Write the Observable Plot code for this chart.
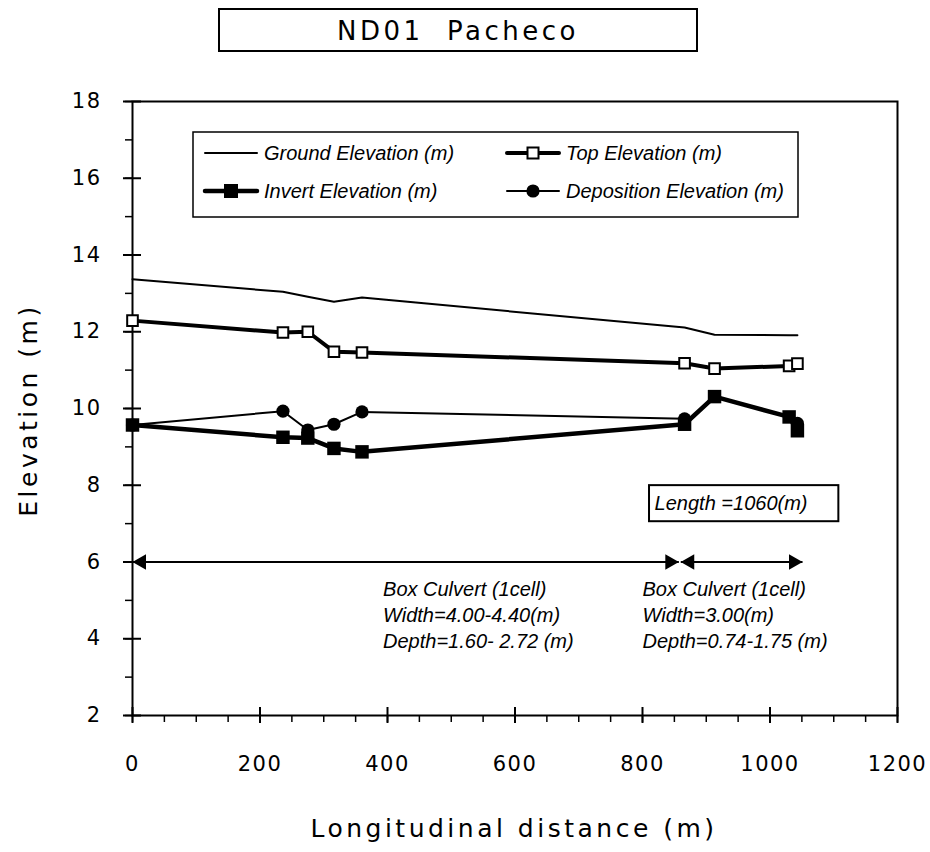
<!DOCTYPE html>
<html><head><meta charset="utf-8">
<script src="https://cdn.jsdelivr.net/npm/d3@7"></script>
<script src="https://cdn.jsdelivr.net/npm/@observablehq/plot@0.6"></script>
<style>
body{margin:0;background:#fff}
</style>
</head><body><div id="chart"></div>
<script>
// ---- data ----
const stations   = [0, 236, 275, 316, 360, 866, 913, 1030, 1043];
const groundElev = [13.37, 13.04, 12.91, 12.78, 12.89, 12.11, 11.92, 11.91, 11.91];
const topElev    = [12.29, 11.98, 12.00, 11.48, 11.46, 11.18, 11.04, 11.11, 11.17];
const invertElev = [9.57, 9.25, 9.23, 8.96, 8.87, 9.59, 10.31, 9.78, 9.42];
const depoElev   = [9.57, 9.93, 9.44, 9.59, 9.91, 9.73, null, null, 9.61];

const seriesNames = ["Ground Elevation (m)", "Top Elevation (m)", "Invert Elevation (m)", "Deposition Elevation (m)"];
const xMajor = [0, 200, 400, 600, 800, 1000, 1200];
const xMinor = d3.range(0, 1201, 50);
const yMajor = [2, 4, 6, 8, 10, 12, 14, 16, 18];
const yMinor = d3.range(2, 19, 1);

const spanStarts = [0, 860];
const spanEnds = [857, 1051];
const spanLevel = 6;
const noteX = [393, 800];
const noteLevel = 4.65;
const notes = [
  "Box Culvert (1cell)\nWidth=4.00-4.40(m)\nDepth=1.60- 2.72 (m)",
  "Box Culvert (1cell)\nWidth=3.00(m)\nDepth=0.74-1.75 (m)"
];
const lengthBox = {x1: 811, x2: 1108, y1: 7.05, y2: 7.99};
const lengthText = "Length =1060(m)";
const lengthTextPos = {x: 819, y: 7.52};

const titleText = "ND01  Pacheco";
const xTitle = "Longitudinal distance (m)";
const yTitle = "Elevation (m)";

// ---- build tables ----
const rows = stations.map((s, i) => ({x: s, ground: groundElev[i], top: topElev[i], inv: invertElev[i], dep: depoElev[i]}));
const spans = spanStarts.map((s, i) => ({x1: s, x2: spanEnds[i], y: spanLevel}));
const noteRows = notes.map((t, i) => ({x: noteX[i], y: noteLevel, t}));

const W = 930, H = 852, ML = 132, MR = 33, MT = 101, MB = 137;
const PW = W - ML - MR, PH = H - MT - MB;
const italic = {fontFamily: "'Liberation Sans', Arial, sans-serif", fontStyle: "italic", fontSize: 20, fill: "black"};

const plot = Plot.plot({
  width: W, height: H,
  marginLeft: ML, marginRight: MR, marginTop: MT, marginBottom: MB,
  style: {fontFamily: "'DejaVu Sans', sans-serif", fontSize: "21px", color: "black", background: "white"},
  x: {domain: [0, 1200]},
  y: {domain: [2, 18]},
  marks: [
    // ticks
    Plot.tickX(xMinor, {x: d => d, insetTop: PH, insetBottom: -7, strokeWidth: 1.5}),
    Plot.tickX(xMajor, {x: d => d, insetTop: PH - 8, insetBottom: -8, strokeWidth: 2}),
    Plot.tickY(yMinor, {y: d => d, insetRight: PW, insetLeft: -7, strokeWidth: 1.5}),
    Plot.tickY(yMajor, {y: d => d, insetRight: PW - 9, insetLeft: -9, strokeWidth: 2}),
    Plot.axisX({ticks: xMajor, tickSize: 0, tickPadding: 41, tickFormat: d => String(d), label: null}),
    Plot.axisY({ticks: yMajor, tickSize: 0, tickPadding: 31, tickFormat: d => String(d), label: null}),
    Plot.frame({stroke: "black", strokeWidth: 2}),
    // annotations
    Plot.rect([lengthBox], {x1: "x1", x2: "x2", y1: "y1", y2: "y2", fill: "white", stroke: "black", strokeWidth: 2}),
    Plot.text([lengthTextPos], {x: "x", y: "y", text: () => lengthText, textAnchor: "start", ...italic}),
    Plot.link(spans, {x1: "x1", x2: "x2", y1: "y", y2: "y", stroke: "black", strokeWidth: 2}),
    Plot.dot(spans, {x: "x2", y: "y", symbol: "triangle", r: 5.8, rotate: 90, dx: -9, fill: "black", stroke: "none"}),
    Plot.dot(spans, {x: "x1", y: "y", symbol: "triangle", r: 5.8, rotate: -90, dx: 9, fill: "black", stroke: "none"}),
    Plot.text(noteRows, {x: "x", y: "y", text: "t", textAnchor: "start", lineAnchor: "middle", lineHeight: 1.28, ...italic}),
    // series
    Plot.line(rows, {x: "x", y: "ground", stroke: "black", strokeWidth: 2}),
    Plot.line(rows, {x: "x", y: "dep", stroke: "black", strokeWidth: 2}),
    Plot.dot(rows, {x: "x", y: "dep", r: 6.6, fill: "black", stroke: "none"}),
    Plot.line(rows, {x: "x", y: "inv", stroke: "black", strokeWidth: 4.5}),
    Plot.dot(rows, {x: "x", y: "inv", symbol: "square", r: 7.6, fill: "black", stroke: "none"}),
    Plot.line(rows, {x: "x", y: "top", stroke: "black", strokeWidth: 4}),
    Plot.dot(rows, {x: "x", y: "top", symbol: "square", r: 6.0, fill: "white", stroke: "black", strokeWidth: 2})
  ]
});

const svg = d3.select(plot);
svg.selectAll('g[aria-label="x-axis tick label"], g[aria-label="y-axis tick label"]')
  .attr("font-size", 21).style("font-size", "21px");
svg.selectAll('g[aria-label="x-axis tick label"] text, g[aria-label="y-axis tick label"] text')
  .style("letter-spacing", "1.5px").style("font-size", "21px");

// title box
svg.append("rect").attr("x", 219).attr("y", 9).attr("width", 478).attr("height", 42)
  .attr("fill", "white").attr("stroke", "black").attr("stroke-width", 2);
svg.append("text").attr("x", 458).attr("y", 31).attr("text-anchor", "middle").attr("dominant-baseline", "central")
  .style("font-family", "'DejaVu Sans', sans-serif").style("font-size", "26px").style("letter-spacing", "3.5px")
  .style("white-space", "pre").attr("xml:space", "preserve").text(titleText);

// axis titles
svg.append("text").attr("x", 514).attr("y", 837).attr("text-anchor", "middle")
  .style("font-family", "'DejaVu Sans', sans-serif").style("font-size", "25px").style("letter-spacing", "3.5px")
  .text(xTitle);
svg.append("text").attr("transform", "translate(37,410) rotate(-90)").attr("text-anchor", "middle")
  .style("font-family", "'DejaVu Sans', sans-serif").style("font-size", "25px").style("letter-spacing", "3.5px")
  .text(yTitle);

// legend
const lg = svg.append("g");
lg.append("rect").attr("x", 193).attr("y", 132).attr("width", 605).attr("height", 85)
  .attr("fill", "white").attr("stroke", "black").attr("stroke-width", 1.5);
const legendItems = [
  {name: seriesNames[0], cx: 231, cy: 153, sw: 2, sym: null},
  {name: seriesNames[1], cx: 533, cy: 153, sw: 4, sym: "open"},
  {name: seriesNames[2], cx: 231, cy: 191, sw: 4.5, sym: "filled"},
  {name: seriesNames[3], cx: 533, cy: 191, sw: 2, sym: "circle"}
];
legendItems.forEach(it => {
  lg.append("line").attr("x1", it.cx - 26).attr("x2", it.cx + 26).attr("y1", it.cy).attr("y2", it.cy)
    .attr("stroke", "black").attr("stroke-width", it.sw).attr("stroke-linecap", "round");
  if (it.sym === "open") lg.append("rect").attr("x", it.cx - 5.5).attr("y", it.cy - 5.5).attr("width", 11).attr("height", 11)
    .attr("fill", "white").attr("stroke", "black").attr("stroke-width", 2);
  if (it.sym === "filled") lg.append("rect").attr("x", it.cx - 7).attr("y", it.cy - 7).attr("width", 14).attr("height", 14).attr("fill", "black");
  if (it.sym === "circle") lg.append("circle").attr("cx", it.cx).attr("cy", it.cy).attr("r", 6.6).attr("fill", "black");
  lg.append("text").attr("x", it.cx + 33).attr("y", it.cy).attr("dominant-baseline", "central").attr("text-anchor", "start")
    .style("font-family", "'Liberation Sans', Arial, sans-serif").style("font-style", "italic").style("font-size", "20px")
    .text(it.name);
});

document.getElementById("chart").append(plot);
</script>
</body></html>
